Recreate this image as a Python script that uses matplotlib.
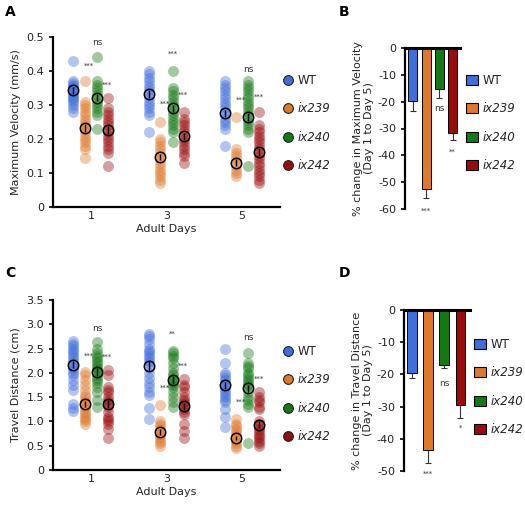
import numpy as np
import matplotlib
matplotlib.use('Agg')
import matplotlib.pyplot as plt
from matplotlib.lines import Line2D
from matplotlib.patches import Patch

plt.rcParams['font.family'] = ['DejaVu Sans']
plt.rcParams['axes.unicode_minus'] = False

groups = ['WT', 'ix239', 'ix240', 'ix242']
colors = ['#3f6fdc', '#e0782a', '#137a13', '#9a0b0b']
days = [1, 3, 5]

# panel A: maximum velocity (mm/s), one list per day
vel_wt = [[0.43, 0.37, 0.365, 0.36, 0.355, 0.35, 0.345, 0.34, 0.335, 0.33, 0.325, 0.32, 0.315, 0.31, 0.30, 0.29, 0.28],
          [0.40, 0.39, 0.38, 0.37, 0.36, 0.35, 0.34, 0.33, 0.32, 0.31, 0.30, 0.29, 0.28, 0.27, 0.22],
          [0.37, 0.36, 0.35, 0.34, 0.33, 0.32, 0.31, 0.30, 0.29, 0.28, 0.27, 0.26, 0.25, 0.24, 0.23, 0.18]]
vel_239 = [[0.37, 0.31, 0.30, 0.29, 0.28, 0.27, 0.26, 0.25, 0.24, 0.235, 0.23, 0.22, 0.21, 0.20, 0.19, 0.18, 0.17, 0.145],
           [0.25, 0.20, 0.19, 0.18, 0.17, 0.16, 0.15, 0.14, 0.13, 0.12, 0.11, 0.10, 0.09, 0.08, 0.07],
           [0.265, 0.17, 0.16, 0.15, 0.14, 0.13, 0.12, 0.11, 0.10, 0.09]]
vel_240 = [[0.44, 0.37, 0.36, 0.35, 0.34, 0.33, 0.32, 0.31, 0.30, 0.29, 0.28, 0.27, 0.23],
           [0.40, 0.35, 0.34, 0.33, 0.32, 0.31, 0.30, 0.29, 0.28, 0.27, 0.26, 0.25, 0.24, 0.23, 0.22, 0.19],
           [0.37, 0.36, 0.35, 0.34, 0.33, 0.32, 0.31, 0.30, 0.29, 0.28, 0.27, 0.26, 0.25, 0.24, 0.23, 0.22, 0.12]]
vel_242 = [[0.32, 0.29, 0.28, 0.27, 0.26, 0.25, 0.24, 0.23, 0.22, 0.21, 0.20, 0.19, 0.18, 0.17, 0.16, 0.12],
           [0.28, 0.26, 0.25, 0.24, 0.23, 0.22, 0.21, 0.20, 0.19, 0.18, 0.17, 0.16, 0.15, 0.13],
           [0.28, 0.24, 0.23, 0.22, 0.21, 0.20, 0.19, 0.18, 0.17, 0.16, 0.15, 0.14, 0.13, 0.12, 0.11, 0.10, 0.09, 0.08, 0.07]]
vel_mean = [[0.343, 0.233, 0.322, 0.226],
            [0.333, 0.147, 0.290, 0.208],
            [0.275, 0.130, 0.265, 0.162]]
vel_sem = [[0.010, 0.012, 0.010, 0.012],
           [0.011, 0.010, 0.010, 0.010],
           [0.010, 0.010, 0.012, 0.012]]

# panel C: travel distance (cm)
dist_wt = [[2.65, 2.6, 2.55, 2.5, 2.45, 2.4, 2.35, 2.3, 2.25, 2.2, 2.15, 2.1, 2.05, 2.0, 1.95, 1.85, 1.75, 1.65, 1.35, 1.28, 1.22],
           [2.8, 2.75, 2.7, 2.6, 2.5, 2.45, 2.4, 2.35, 2.3, 2.25, 2.2, 2.1, 2.0, 1.9, 1.8, 1.7, 1.6, 1.55, 1.28, 1.05],
           [2.5, 2.2, 2.0, 1.95, 1.9, 1.85, 1.8, 1.75, 1.7, 1.65, 1.6, 1.55, 1.5, 1.45, 1.4, 1.25, 1.1, 0.88]]
dist_239 = [[2.02, 1.95, 1.85, 1.75, 1.65, 1.55, 1.5, 1.45, 1.4, 1.35, 1.3, 1.25, 1.2, 1.15, 1.1, 1.05, 1.0, 0.95],
            [1.33, 1.0, 0.95, 0.9, 0.85, 0.8, 0.75, 0.7, 0.65, 0.6, 0.55, 0.5],
            [1.05, 0.95, 0.9, 0.85, 0.8, 0.75, 0.7, 0.65, 0.6, 0.55, 0.5, 0.45]]
dist_240 = [[2.63, 2.5, 2.4, 2.35, 2.3, 2.25, 2.2, 2.15, 2.1, 2.05, 2.0, 1.95, 1.9, 1.85, 1.8, 1.7, 1.6, 1.45, 1.3],
            [2.45, 2.4, 2.35, 2.3, 2.2, 2.1, 2.0, 1.95, 1.9, 1.85, 1.8, 1.75, 1.7, 1.6, 1.5, 1.4, 1.3],
            [2.4, 2.2, 2.15, 2.1, 2.0, 1.95, 1.9, 1.85, 1.8, 1.75, 1.7, 1.6, 1.5, 1.45, 1.35, 1.3, 0.55]]
dist_242 = [[2.05, 1.95, 1.7, 1.65, 1.6, 1.5, 1.45, 1.4, 1.35, 1.3, 1.2, 1.1, 1.05, 1.0, 0.95, 0.85, 0.65],
            [1.88, 1.75, 1.7, 1.6, 1.5, 1.45, 1.4, 1.35, 1.3, 1.25, 1.2, 1.15, 0.95, 0.8, 0.65],
            [1.6, 1.5, 1.45, 1.4, 1.3, 1.25, 1.0, 0.95, 0.9, 0.85, 0.8, 0.75, 0.7, 0.65, 0.6, 0.55, 0.5]]
dist_mean = [[2.17, 1.36, 2.01, 1.36],
             [2.14, 0.78, 1.85, 1.31],
             [1.74, 0.66, 1.68, 0.93]]
dist_sem = [[0.08, 0.07, 0.08, 0.08],
            [0.10, 0.06, 0.08, 0.07],
            [0.08, 0.05, 0.08, 0.07]]

# panels B and D: % change day 1 to day 5
pct_vel = [-19.9, -52.5, -15.3, -31.7]
pct_vel_err = [3.5, 3.5, 3.5, 2.5]
pct_dist = [-19.5, -43.5, -17.2, -29.5]
pct_dist_err = [1.7, 3.9, 0.9, 4.1]

# significance labels (text, day, group index, y)
sig_vel = [('ns', 1, 2, 0.485), ('***', 1, 1, 0.415), ('***', 1, 3, 0.36),
           ('***', 3, 2, 0.45), ('***', 3, 1, 0.305), ('***', 3, 3, 0.33),
           ('ns', 5, 2, 0.405), ('***', 5, 1, 0.315), ('***', 5, 3, 0.325)]
sig_dist = [('ns', 1, 2, 2.92), ('***', 1, 1, 2.35), ('***', 1, 3, 2.33),
            ('**', 3, 2, 2.80), ('***', 3, 1, 1.69), ('***', 3, 3, 2.14),
            ('ns', 5, 2, 2.73), ('***', 5, 1, 1.41), ('***', 5, 3, 1.87)]
sig_pct_vel = ['', '***', 'ns', '**']
sig_pct_vel_y = [0, -60.5, -22.4, -38.5]
sig_pct_dist = ['', '***', 'ns', '*']
sig_pct_dist_y = [0, -50.7, -22.8, -36.5]

offsets = [-0.46, -0.16, 0.16, 0.45]
tick_col = '#222222'


def scatterPanel(ax, data, means, sems, sigs, ylim, yticks, ylabels, ylab):
	for g in range(4):
		for d in range(3):
			x = days[d] + offsets[g]
			vals = data[g][d]
			ax.scatter([x]*len(vals), vals, s=62, color=colors[g], alpha=0.4, linewidths=0, zorder=2)
			ax.errorbar(x, means[d][g], yerr=sems[d][g], fmt='none', ecolor='black', elinewidth=1, capsize=0, zorder=3)
			ax.plot(x, means[d][g], 'o', ms=7.5, mfc='none', mec='black', mew=1.1, zorder=4)
	for txt, day, g, y in sigs:
		ax.text(day + offsets[g] + (0.12 if g == 1 else (-0.02 if g == 3 else 0)), y, txt,
			fontsize=5 if txt != 'ns' else 6.5, ha='center', va='center', color='#333333')
	ax.set_xlim(0, 6)
	ax.set_ylim(*ylim)
	ax.set_xticks(days)
	ax.set_yticks(yticks)
	ax.set_yticklabels(ylabels)
	ax.spines['top'].set_visible(False)
	ax.spines['right'].set_visible(False)
	ax.spines['left'].set_linewidth(1.6)
	ax.spines['bottom'].set_linewidth(1.6)
	ax.tick_params(axis='x', length=0, pad=3, labelsize=8, labelcolor=tick_col)
	ax.tick_params(axis='y', length=3, width=1.2, labelsize=8, labelcolor=tick_col)
	ax.set_xlabel('Adult Days', fontsize=8, color=tick_col, labelpad=2)
	ax.set_ylabel(ylab, fontsize=8, color=tick_col, labelpad=4)


def barPanel(ax, vals, errs, sigs, sig_y, ymin, ylab, width):
	x = np.arange(4)
	ax.bar(x, vals, width=width, color=colors, edgecolor='black', linewidth=0.7, zorder=2)
	ax.errorbar(x, vals, yerr=[errs, [0]*4], fmt='none', ecolor='#333333', elinewidth=0.8, capsize=2, capthick=0.8, zorder=1)
	for i in range(4):
		if sigs[i]:
			ax.text(x[i], sig_y[i], sigs[i], fontsize=5 if sigs[i] != 'ns' else 6.5, ha='center', va='center', color='#333333')
	ax.set_ylim(ymin, 0)
	ax.set_xlim(-0.6, 3.55)
	ax.set_yticks(np.arange(ymin, 1, 10))
	ax.set_xticks([])
	ax.spines['bottom'].set_visible(False)
	ax.spines['right'].set_visible(False)
	ax.spines['left'].set_linewidth(1.6)
	ax.spines['top'].set_linewidth(2.2)
	ax.tick_params(axis='y', length=3, width=1.2, labelsize=8, labelcolor=tick_col)
	ax.set_ylabel(ylab, fontsize=8, color=tick_col, labelpad=3, linespacing=1.1)


fig = plt.figure(figsize=(5.25, 5.14), dpi=100)

axA = fig.add_axes([53/525, 1-207/514, 227/525, 170/514])
scatterPanel(axA, [vel_wt, vel_239, vel_240, vel_242], vel_mean, vel_sem, sig_vel,
	(0, 0.5), [0, 0.1, 0.2, 0.3, 0.4, 0.5], ['0', '0.1', '0.2', '0.3', '0.4', '0.5'], 'Maximum Velocity (mm/s)')

axC = fig.add_axes([53/525, 1-470/514, 227/525, 170/514])
scatterPanel(axC, [dist_wt, dist_239, dist_240, dist_242], dist_mean, dist_sem, sig_dist,
	(0, 3.5), [0, 0.5, 1.0, 1.5, 2.0, 2.5, 3.0, 3.5], ['0', '0.5', '1.0', '1.5', '2.0', '2.5', '3.0', '3.5'], 'Travel Distance (cm)')

axB = fig.add_axes([405/525, 1-209/514, 55/525, 161/514])
barPanel(axB, pct_vel, pct_vel_err, sig_pct_vel, sig_pct_vel_y, -60, '% change in Maximum Velocity\n(Day 1 to Day 5)', 0.68)

axD = fig.add_axes([404/525, 1-471/514, 66/525, 161/514])
barPanel(axD, pct_dist, pct_dist_err, sig_pct_dist, sig_pct_dist_y, -50, '% change in Travel Distance\n(Day 1 to Day 5)', 0.6)
axD.set_xlim(-0.5, 3.6)

# legends
circ = [Line2D([], [], marker='o', ls='none', ms=7, mfc=c, mec='#222222', mew=0.8) for c in colors]
sq = [Patch(facecolor=c, edgecolor='black', linewidth=0.8) for c in colors]
labels = ['WT', 'ix239', 'ix240', 'ix242']

def addLegend(handles, x, y, square):
	leg = fig.legend(handles, labels, loc='upper left', bbox_to_anchor=(x/525, 1-y/514), frameon=False,
		fontsize=8.5, labelspacing=1.3, handlelength=1.0 if square else 0.8, handleheight=0.9 if square else 0.7,
		handletextpad=0.4, borderpad=0, borderaxespad=0)
	for i, t in enumerate(leg.get_texts()):
		t.set_color(tick_col)
		if i > 0:
			t.set_fontstyle('italic')

addLegend(circ, 283, 74, False)
addLegend(sq, 466, 74, True)
addLegend(circ, 283, 345, False)
addLegend(sq, 474, 338, True)

# panel letters
for lt, x, y in [('A', 5, 12), ('B', 339, 12), ('C', 5, 273), ('D', 339, 273)]:
	fig.text(x/525, 1-y/514, lt, fontsize=10, fontweight='bold', va='center', ha='left')

fig.savefig('out.png', dpi=100, facecolor='white')
